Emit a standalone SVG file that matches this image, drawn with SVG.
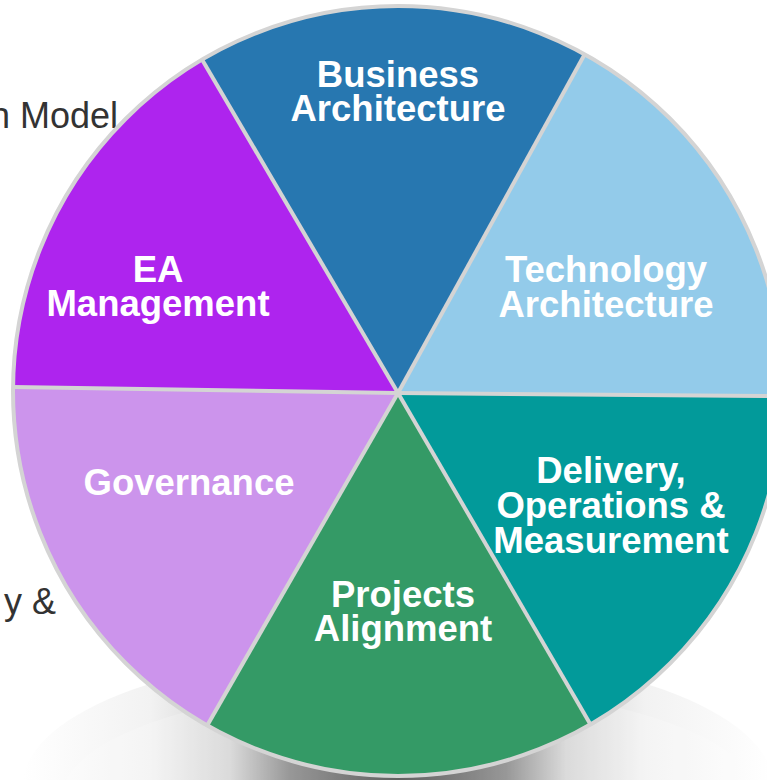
<svg xmlns="http://www.w3.org/2000/svg" width="767" height="780" viewBox="0 0 767 780">
  <defs>
    <linearGradient id="shadowGrad" x1="23" y1="0" x2="773" y2="0" gradientUnits="userSpaceOnUse">
      <stop offset="0" stop-color="#ffffff"/>
      <stop offset="0.17" stop-color="#f2f2f2"/>
      <stop offset="0.276" stop-color="#d2d2d2"/>
      <stop offset="0.356" stop-color="#7e7e7e"/>
      <stop offset="0.5" stop-color="#3a3a3a"/>
      <stop offset="0.644" stop-color="#7e7e7e"/>
      <stop offset="0.724" stop-color="#d2d2d2"/>
      <stop offset="0.83" stop-color="#f2f2f2"/>
      <stop offset="1" stop-color="#ffffff"/>
    </linearGradient>
    <style>
      .label { font-family: "Liberation Sans", Arial, sans-serif; font-weight: bold; font-size: 36.5px; fill: #ffffff; text-anchor: middle; }
      .side { font-family: "Liberation Sans", Arial, sans-serif; font-size: 36px; fill: #333333; text-anchor: end; }
      .sep { stroke: #d4d4d4; stroke-width: 4; fill: none; }
    </style>
  </defs>
  <rect width="767" height="780" fill="#ffffff"/>

  <!-- background side texts (partly hidden behind the wheel) -->
  <text class="side" x="118" y="128">n Model</text>
  <text class="side" x="56" y="614">y &amp;</text>

  <!-- shadow -->
  <ellipse cx="398" cy="785" rx="375" ry="135" fill="url(#shadowGrad)"/>
  <ellipse cx="410" cy="800" rx="350" ry="115" fill="#ffffff" opacity="0.2"/>

  <g id="business-architecture">
    <path d="M398 393 L202 59.6 A385 385 0 0 1 584.7 54.3 Z" fill="#2777b0"/>
    <text class="label" x="398" y="87">Business</text>
    <text class="label" x="398" y="121">Architecture</text>
  </g>
  <g id="technology-architecture">
    <path d="M398 393 L584.7 54.3 A385 385 0 0 1 782.96 396.2 Z" fill="#93cbea"/>
    <text class="label" x="606" y="282">Technology</text>
    <text class="label" x="606" y="317">Architecture</text>
  </g>
  <g id="delivery-operations-measurement">
    <path d="M398 393 L782.96 396.2 A385 385 0 0 1 590.5 724.4 Z" fill="#029a9a"/>
    <text class="label" x="611" y="483">Delivery,</text>
    <text class="label" x="611" y="518">Operations &amp;</text>
    <text class="label" x="611" y="553">Measurement</text>
  </g>
  <g id="projects-alignment">
    <path d="M398 393 L590.5 724.4 A385 385 0 0 1 207.2 725.4 Z" fill="#349a66"/>
    <text class="label" x="403" y="607">Projects</text>
    <text class="label" x="403" y="641">Alignment</text>
  </g>
  <g id="governance">
    <path d="M398 393 L207.2 725.4 A385 385 0 0 1 13 387 Z" fill="#cc94ec"/>
    <text class="label" x="189" y="495">Governance</text>
  </g>
  <g id="ea-management">
    <path d="M398 393 L13 387 A385 385 0 0 1 202 59.6 Z" fill="#ae24ee"/>
    <text class="label" x="158" y="282">EA</text>
    <text class="label" x="158" y="316">Management</text>
  </g>

  <g id="separators">
    <line class="sep" x1="398" y1="393" x2="202" y2="59.6"/>
    <line class="sep" x1="398" y1="393" x2="584.7" y2="54.3"/>
    <line class="sep" x1="398" y1="393" x2="782.96" y2="396.2"/>
    <line class="sep" x1="398" y1="393" x2="590.5" y2="724.4"/>
    <line class="sep" x1="398" y1="393" x2="207.2" y2="725.4"/>
    <line class="sep" x1="398" y1="393" x2="13" y2="387"/>
    <circle class="sep" cx="398" cy="391" r="385"/>
  </g>
</svg>
